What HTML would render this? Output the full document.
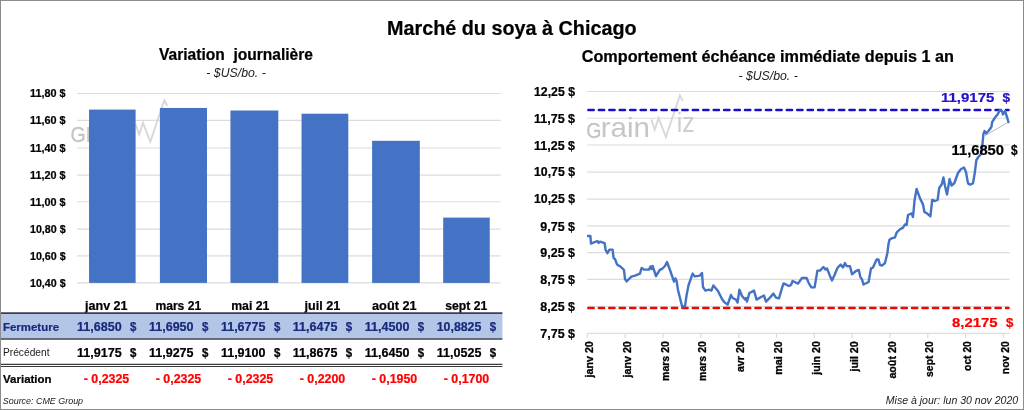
<!DOCTYPE html>
<html lang="fr"><head><meta charset="utf-8"><title>Marché du soya à Chicago</title>
<style>html,body{margin:0;padding:0;background:#fff}body{width:1024px;height:410px;overflow:hidden}</style></head>
<body>
<svg width="1024" height="410" viewBox="0 0 1024 410" font-family='"Liberation Sans", sans-serif' style="display:block">
<rect x="0" y="0" width="1024" height="410" fill="#fff"/>
<line x1="77" x2="500.7" y1="93.50" y2="93.50" stroke="#dcdcdc" stroke-width="1.2"/>
<line x1="77" x2="500.7" y1="120.45" y2="120.45" stroke="#dcdcdc" stroke-width="1.2"/>
<line x1="77" x2="500.7" y1="148.00" y2="148.00" stroke="#dcdcdc" stroke-width="1.2"/>
<line x1="77" x2="500.7" y1="175.05" y2="175.05" stroke="#dcdcdc" stroke-width="1.2"/>
<line x1="77" x2="500.7" y1="201.75" y2="201.75" stroke="#dcdcdc" stroke-width="1.2"/>
<line x1="77" x2="500.7" y1="229.20" y2="229.20" stroke="#dcdcdc" stroke-width="1.2"/>
<line x1="77" x2="500.7" y1="255.84" y2="255.84" stroke="#dcdcdc" stroke-width="1.2"/>
<line x1="77" x2="500.7" y1="282.90" y2="282.90" stroke="#dcdcdc" stroke-width="1.2"/>
<text x="30.00" y="97.35" font-size="10.3" font-weight="bold" font-style="normal" fill="#000" stroke="#000" stroke-width="0.22" text-anchor="start" textLength="35.60" lengthAdjust="spacingAndGlyphs">11,80 $</text>
<text x="30.00" y="124.30" font-size="10.3" font-weight="bold" font-style="normal" fill="#000" stroke="#000" stroke-width="0.22" text-anchor="start" textLength="35.60" lengthAdjust="spacingAndGlyphs">11,60 $</text>
<text x="30.00" y="151.70" font-size="10.3" font-weight="bold" font-style="normal" fill="#000" stroke="#000" stroke-width="0.22" text-anchor="start" textLength="35.60" lengthAdjust="spacingAndGlyphs">11,40 $</text>
<text x="30.00" y="178.75" font-size="10.3" font-weight="bold" font-style="normal" fill="#000" stroke="#000" stroke-width="0.22" text-anchor="start" textLength="35.60" lengthAdjust="spacingAndGlyphs">11,20 $</text>
<text x="30.00" y="206.15" font-size="10.3" font-weight="bold" font-style="normal" fill="#000" stroke="#000" stroke-width="0.22" text-anchor="start" textLength="35.60" lengthAdjust="spacingAndGlyphs">11,00 $</text>
<text x="30.00" y="233.20" font-size="10.3" font-weight="bold" font-style="normal" fill="#000" stroke="#000" stroke-width="0.22" text-anchor="start" textLength="35.60" lengthAdjust="spacingAndGlyphs">10,80 $</text>
<text x="30.00" y="259.69" font-size="10.3" font-weight="bold" font-style="normal" fill="#000" stroke="#000" stroke-width="0.22" text-anchor="start" textLength="35.60" lengthAdjust="spacingAndGlyphs">10,60 $</text>
<text x="30.00" y="286.75" font-size="10.3" font-weight="bold" font-style="normal" fill="#000" stroke="#000" stroke-width="0.22" text-anchor="start" textLength="35.60" lengthAdjust="spacingAndGlyphs">10,40 $</text>
<g transform="translate(-515.60,4.80)">
<text x="586.2" y="137.6" font-size="22.5" font-weight="normal" fill="#c4c4c4" stroke="#c4c4c4" stroke-width="0.3" textLength="15.2" lengthAdjust="spacingAndGlyphs">G</text>
<text x="600.8" y="137.4" font-size="28" font-weight="normal" fill="#c6c6c6" textLength="49.2" lengthAdjust="spacingAndGlyphs">rain</text>
<polyline points="651.3,119.4 654.7,129.7 658.6,118 665.9,137 679.9,95.5 682.8,101" fill="none" stroke="#d8d8d8" stroke-width="1.9" stroke-linejoin="miter"/>
<text x="676.8" y="131.9" font-size="28.5" font-weight="normal" fill="#cecece" textLength="18" lengthAdjust="spacingAndGlyphs">iz</text>
</g>
<rect x="89.05" y="109.60" width="46.55" height="173.30" fill="#4472c4"/>
<rect x="159.90" y="107.95" width="47.10" height="174.95" fill="#4472c4"/>
<rect x="230.45" y="110.50" width="47.85" height="172.40" fill="#4472c4"/>
<rect x="301.54" y="113.70" width="46.76" height="169.20" fill="#4472c4"/>
<rect x="372.10" y="140.80" width="47.70" height="142.10" fill="#4472c4"/>
<rect x="443.20" y="217.60" width="46.55" height="65.30" fill="#4472c4"/>
<text x="159.00" y="59.70" font-size="16" font-weight="bold" font-style="normal" fill="#000" stroke="#000" stroke-width="0.22" text-anchor="start" textLength="154.00" lengthAdjust="spacingAndGlyphs" xml:space="preserve" style="white-space:pre">Variation  journalière</text>
<text x="206.30" y="77.30" font-size="12" font-weight="normal" font-style="italic" fill="#1a1a1a" text-anchor="start" textLength="59.50" lengthAdjust="spacingAndGlyphs">- $US/bo. -</text>
<text x="85.05" y="310.00" font-size="12.2" font-weight="bold" font-style="normal" fill="#000" stroke="#000" stroke-width="0.22" text-anchor="start" textLength="42.50" lengthAdjust="spacingAndGlyphs">janv 21</text>
<text x="155.43" y="310.00" font-size="12.2" font-weight="bold" font-style="normal" fill="#000" stroke="#000" stroke-width="0.22" text-anchor="start" textLength="45.75" lengthAdjust="spacingAndGlyphs">mars 21</text>
<text x="231.18" y="310.00" font-size="12.2" font-weight="bold" font-style="normal" fill="#000" stroke="#000" stroke-width="0.22" text-anchor="start" textLength="38.25" lengthAdjust="spacingAndGlyphs">mai 21</text>
<text x="304.43" y="310.00" font-size="12.2" font-weight="bold" font-style="normal" fill="#000" stroke="#000" stroke-width="0.22" text-anchor="start" textLength="35.75" lengthAdjust="spacingAndGlyphs">juil 21</text>
<text x="372.05" y="310.00" font-size="12.2" font-weight="bold" font-style="normal" fill="#000" stroke="#000" stroke-width="0.22" text-anchor="start" textLength="44.50" lengthAdjust="spacingAndGlyphs">août 21</text>
<text x="445.30" y="310.00" font-size="12.2" font-weight="bold" font-style="normal" fill="#000" stroke="#000" stroke-width="0.22" text-anchor="start" textLength="42.00" lengthAdjust="spacingAndGlyphs">sept 21</text>
<rect x="1" y="313.5" width="501.4" height="25" fill="#b4c6e7"/>
<line x1="1" x2="502.4" y1="313.1" y2="313.1" stroke="#3c4150" stroke-width="1.6"/>
<line x1="1" x2="502.4" y1="339" y2="339" stroke="#3c4150" stroke-width="1.6"/>
<line x1="1" x2="502.4" y1="364.4" y2="364.4" stroke="#3c3c3c" stroke-width="1.1"/>
<line x1="1" x2="502.4" y1="366.5" y2="366.5" stroke="#3c3c3c" stroke-width="1.1"/>
<text x="3.00" y="330.60" font-size="11.6" font-weight="bold" font-style="normal" fill="#182a7c" stroke="#182a7c" stroke-width="0.22" text-anchor="start" textLength="56.00" lengthAdjust="spacingAndGlyphs">Fermeture</text>
<text x="3.00" y="356.30" font-size="10.4" font-weight="normal" font-style="normal" fill="#1a1a1a" text-anchor="start" textLength="46.50" lengthAdjust="spacingAndGlyphs">Précédent</text>
<text x="3.10" y="383.00" font-size="11.4" font-weight="bold" font-style="normal" fill="#000" stroke="#000" stroke-width="0.22" text-anchor="start" textLength="48.50" lengthAdjust="spacingAndGlyphs">Variation</text>
<text x="77.00" y="330.60" font-size="12" font-weight="bold" font-style="normal" fill="#182a7c" stroke="#182a7c" stroke-width="0.22" text-anchor="start" textLength="44.60" lengthAdjust="spacingAndGlyphs">11,6850</text>
<text x="130.00" y="330.60" font-size="12" font-weight="bold" font-style="normal" fill="#182a7c" stroke="#182a7c" stroke-width="0.22" text-anchor="start" textLength="6.40" lengthAdjust="spacingAndGlyphs">$</text>
<text x="77.00" y="356.70" font-size="12" font-weight="bold" font-style="normal" fill="#000" stroke="#000" stroke-width="0.22" text-anchor="start" textLength="44.60" lengthAdjust="spacingAndGlyphs">11,9175</text>
<text x="130.00" y="356.70" font-size="12" font-weight="bold" font-style="normal" fill="#000" stroke="#000" stroke-width="0.22" text-anchor="start" textLength="6.40" lengthAdjust="spacingAndGlyphs">$</text>
<text x="83.75" y="383.00" font-size="12" font-weight="bold" font-style="normal" fill="#ff0000" stroke="#ff0000" stroke-width="0.22" text-anchor="start" textLength="45.50" lengthAdjust="spacingAndGlyphs">- 0,2325</text>
<text x="148.95" y="330.60" font-size="12" font-weight="bold" font-style="normal" fill="#182a7c" stroke="#182a7c" stroke-width="0.22" text-anchor="start" textLength="44.60" lengthAdjust="spacingAndGlyphs">11,6950</text>
<text x="201.95" y="330.60" font-size="12" font-weight="bold" font-style="normal" fill="#182a7c" stroke="#182a7c" stroke-width="0.22" text-anchor="start" textLength="6.40" lengthAdjust="spacingAndGlyphs">$</text>
<text x="148.95" y="356.70" font-size="12" font-weight="bold" font-style="normal" fill="#000" stroke="#000" stroke-width="0.22" text-anchor="start" textLength="44.60" lengthAdjust="spacingAndGlyphs">11,9275</text>
<text x="201.95" y="356.70" font-size="12" font-weight="bold" font-style="normal" fill="#000" stroke="#000" stroke-width="0.22" text-anchor="start" textLength="6.40" lengthAdjust="spacingAndGlyphs">$</text>
<text x="155.75" y="383.00" font-size="12" font-weight="bold" font-style="normal" fill="#ff0000" stroke="#ff0000" stroke-width="0.22" text-anchor="start" textLength="45.50" lengthAdjust="spacingAndGlyphs">- 0,2325</text>
<text x="220.90" y="330.60" font-size="12" font-weight="bold" font-style="normal" fill="#182a7c" stroke="#182a7c" stroke-width="0.22" text-anchor="start" textLength="44.60" lengthAdjust="spacingAndGlyphs">11,6775</text>
<text x="273.90" y="330.60" font-size="12" font-weight="bold" font-style="normal" fill="#182a7c" stroke="#182a7c" stroke-width="0.22" text-anchor="start" textLength="6.40" lengthAdjust="spacingAndGlyphs">$</text>
<text x="220.90" y="356.70" font-size="12" font-weight="bold" font-style="normal" fill="#000" stroke="#000" stroke-width="0.22" text-anchor="start" textLength="44.60" lengthAdjust="spacingAndGlyphs">11,9100</text>
<text x="273.90" y="356.70" font-size="12" font-weight="bold" font-style="normal" fill="#000" stroke="#000" stroke-width="0.22" text-anchor="start" textLength="6.40" lengthAdjust="spacingAndGlyphs">$</text>
<text x="227.75" y="383.00" font-size="12" font-weight="bold" font-style="normal" fill="#ff0000" stroke="#ff0000" stroke-width="0.22" text-anchor="start" textLength="45.50" lengthAdjust="spacingAndGlyphs">- 0,2325</text>
<text x="292.85" y="330.60" font-size="12" font-weight="bold" font-style="normal" fill="#182a7c" stroke="#182a7c" stroke-width="0.22" text-anchor="start" textLength="44.60" lengthAdjust="spacingAndGlyphs">11,6475</text>
<text x="345.85" y="330.60" font-size="12" font-weight="bold" font-style="normal" fill="#182a7c" stroke="#182a7c" stroke-width="0.22" text-anchor="start" textLength="6.40" lengthAdjust="spacingAndGlyphs">$</text>
<text x="292.85" y="356.70" font-size="12" font-weight="bold" font-style="normal" fill="#000" stroke="#000" stroke-width="0.22" text-anchor="start" textLength="44.60" lengthAdjust="spacingAndGlyphs">11,8675</text>
<text x="345.85" y="356.70" font-size="12" font-weight="bold" font-style="normal" fill="#000" stroke="#000" stroke-width="0.22" text-anchor="start" textLength="6.40" lengthAdjust="spacingAndGlyphs">$</text>
<text x="299.75" y="383.00" font-size="12" font-weight="bold" font-style="normal" fill="#ff0000" stroke="#ff0000" stroke-width="0.22" text-anchor="start" textLength="45.50" lengthAdjust="spacingAndGlyphs">- 0,2200</text>
<text x="364.80" y="330.60" font-size="12" font-weight="bold" font-style="normal" fill="#182a7c" stroke="#182a7c" stroke-width="0.22" text-anchor="start" textLength="44.60" lengthAdjust="spacingAndGlyphs">11,4500</text>
<text x="417.80" y="330.60" font-size="12" font-weight="bold" font-style="normal" fill="#182a7c" stroke="#182a7c" stroke-width="0.22" text-anchor="start" textLength="6.40" lengthAdjust="spacingAndGlyphs">$</text>
<text x="364.80" y="356.70" font-size="12" font-weight="bold" font-style="normal" fill="#000" stroke="#000" stroke-width="0.22" text-anchor="start" textLength="44.60" lengthAdjust="spacingAndGlyphs">11,6450</text>
<text x="417.80" y="356.70" font-size="12" font-weight="bold" font-style="normal" fill="#000" stroke="#000" stroke-width="0.22" text-anchor="start" textLength="6.40" lengthAdjust="spacingAndGlyphs">$</text>
<text x="371.75" y="383.00" font-size="12" font-weight="bold" font-style="normal" fill="#ff0000" stroke="#ff0000" stroke-width="0.22" text-anchor="start" textLength="45.50" lengthAdjust="spacingAndGlyphs">- 0,1950</text>
<text x="436.75" y="330.60" font-size="12" font-weight="bold" font-style="normal" fill="#182a7c" stroke="#182a7c" stroke-width="0.22" text-anchor="start" textLength="44.60" lengthAdjust="spacingAndGlyphs">10,8825</text>
<text x="489.75" y="330.60" font-size="12" font-weight="bold" font-style="normal" fill="#182a7c" stroke="#182a7c" stroke-width="0.22" text-anchor="start" textLength="6.40" lengthAdjust="spacingAndGlyphs">$</text>
<text x="436.75" y="356.70" font-size="12" font-weight="bold" font-style="normal" fill="#000" stroke="#000" stroke-width="0.22" text-anchor="start" textLength="44.60" lengthAdjust="spacingAndGlyphs">11,0525</text>
<text x="489.75" y="356.70" font-size="12" font-weight="bold" font-style="normal" fill="#000" stroke="#000" stroke-width="0.22" text-anchor="start" textLength="6.40" lengthAdjust="spacingAndGlyphs">$</text>
<text x="443.75" y="383.00" font-size="12" font-weight="bold" font-style="normal" fill="#ff0000" stroke="#ff0000" stroke-width="0.22" text-anchor="start" textLength="45.50" lengthAdjust="spacingAndGlyphs">- 0,1700</text>
<text x="2.75" y="404.40" font-size="9.3" font-weight="normal" font-style="italic" fill="#222" text-anchor="start" textLength="80.35" lengthAdjust="spacingAndGlyphs">Source: CME Group</text>
<text x="387.00" y="35.00" font-size="20" font-weight="bold" font-style="normal" fill="#000" stroke="#000" stroke-width="0.22" text-anchor="start" textLength="249.60" lengthAdjust="spacingAndGlyphs">Marché du soya à Chicago</text>
<line x1="587.2" x2="1009.6" y1="91.50" y2="91.50" stroke="#dcdcdc" stroke-width="1.2"/>
<line x1="587.2" x2="1009.6" y1="118.25" y2="118.25" stroke="#dcdcdc" stroke-width="1.2"/>
<line x1="587.2" x2="1009.6" y1="145.00" y2="145.00" stroke="#dcdcdc" stroke-width="1.2"/>
<line x1="587.2" x2="1009.6" y1="172.05" y2="172.05" stroke="#dcdcdc" stroke-width="1.2"/>
<line x1="587.2" x2="1009.6" y1="199.20" y2="199.20" stroke="#dcdcdc" stroke-width="1.2"/>
<line x1="587.2" x2="1009.6" y1="225.90" y2="225.90" stroke="#dcdcdc" stroke-width="1.2"/>
<line x1="587.2" x2="1009.6" y1="252.55" y2="252.55" stroke="#dcdcdc" stroke-width="1.2"/>
<line x1="587.2" x2="1009.6" y1="279.30" y2="279.30" stroke="#dcdcdc" stroke-width="1.2"/>
<line x1="587.2" x2="1009.6" y1="306.30" y2="306.30" stroke="#dcdcdc" stroke-width="1.2"/>
<line x1="587.2" x2="1009.6" y1="333.30" y2="333.30" stroke="#dcdcdc" stroke-width="1.2"/>
<text x="534.00" y="96.25" font-size="12" font-weight="bold" font-style="normal" fill="#000" stroke="#000" stroke-width="0.22" text-anchor="start" textLength="41.00" lengthAdjust="spacingAndGlyphs">12,25 $</text>
<text x="534.00" y="123.00" font-size="12" font-weight="bold" font-style="normal" fill="#000" stroke="#000" stroke-width="0.22" text-anchor="start" textLength="41.00" lengthAdjust="spacingAndGlyphs">11,75 $</text>
<text x="534.00" y="149.60" font-size="12" font-weight="bold" font-style="normal" fill="#000" stroke="#000" stroke-width="0.22" text-anchor="start" textLength="41.00" lengthAdjust="spacingAndGlyphs">11,25 $</text>
<text x="534.00" y="176.05" font-size="12" font-weight="bold" font-style="normal" fill="#000" stroke="#000" stroke-width="0.22" text-anchor="start" textLength="41.00" lengthAdjust="spacingAndGlyphs">10,75 $</text>
<text x="534.00" y="203.35" font-size="12" font-weight="bold" font-style="normal" fill="#000" stroke="#000" stroke-width="0.22" text-anchor="start" textLength="41.00" lengthAdjust="spacingAndGlyphs">10,25 $</text>
<text x="540.30" y="230.55" font-size="12" font-weight="bold" font-style="normal" fill="#000" stroke="#000" stroke-width="0.22" text-anchor="start" textLength="34.70" lengthAdjust="spacingAndGlyphs">9,75 $</text>
<text x="540.30" y="257.45" font-size="12" font-weight="bold" font-style="normal" fill="#000" stroke="#000" stroke-width="0.22" text-anchor="start" textLength="34.70" lengthAdjust="spacingAndGlyphs">9,25 $</text>
<text x="540.30" y="284.20" font-size="12" font-weight="bold" font-style="normal" fill="#000" stroke="#000" stroke-width="0.22" text-anchor="start" textLength="34.70" lengthAdjust="spacingAndGlyphs">8,75 $</text>
<text x="540.30" y="311.05" font-size="12" font-weight="bold" font-style="normal" fill="#000" stroke="#000" stroke-width="0.22" text-anchor="start" textLength="34.70" lengthAdjust="spacingAndGlyphs">8,25 $</text>
<text x="540.30" y="338.05" font-size="12" font-weight="bold" font-style="normal" fill="#000" stroke="#000" stroke-width="0.22" text-anchor="start" textLength="34.70" lengthAdjust="spacingAndGlyphs">7,75 $</text>
<line x1="587.40" x2="587.40" y1="333.30" y2="337.90" stroke="#dcdcdc" stroke-width="1.2"/>
<text transform="translate(593.00,341.2) rotate(-90)" x="0" y="0" font-size="11.3" font-weight="bold" fill="#000" stroke="#000" stroke-width="0.3" text-anchor="end" textLength="36.2" lengthAdjust="spacingAndGlyphs">janv 20</text>
<line x1="625.22" x2="625.22" y1="333.30" y2="337.90" stroke="#dcdcdc" stroke-width="1.2"/>
<text transform="translate(630.82,341.2) rotate(-90)" x="0" y="0" font-size="11.3" font-weight="bold" fill="#000" stroke="#000" stroke-width="0.3" text-anchor="end" textLength="36.2" lengthAdjust="spacingAndGlyphs">janv 20</text>
<line x1="663.04" x2="663.04" y1="333.30" y2="337.90" stroke="#dcdcdc" stroke-width="1.2"/>
<text transform="translate(668.64,341.2) rotate(-90)" x="0" y="0" font-size="11.3" font-weight="bold" fill="#000" stroke="#000" stroke-width="0.3" text-anchor="end" textLength="39.7" lengthAdjust="spacingAndGlyphs">mars 20</text>
<line x1="700.86" x2="700.86" y1="333.30" y2="337.90" stroke="#dcdcdc" stroke-width="1.2"/>
<text transform="translate(706.46,341.2) rotate(-90)" x="0" y="0" font-size="11.3" font-weight="bold" fill="#000" stroke="#000" stroke-width="0.3" text-anchor="end" textLength="39.7" lengthAdjust="spacingAndGlyphs">mars 20</text>
<line x1="738.68" x2="738.68" y1="333.30" y2="337.90" stroke="#dcdcdc" stroke-width="1.2"/>
<text transform="translate(744.28,341.2) rotate(-90)" x="0" y="0" font-size="11.3" font-weight="bold" fill="#000" stroke="#000" stroke-width="0.3" text-anchor="end" textLength="30.9" lengthAdjust="spacingAndGlyphs">avr 20</text>
<line x1="776.50" x2="776.50" y1="333.30" y2="337.90" stroke="#dcdcdc" stroke-width="1.2"/>
<text transform="translate(782.10,341.2) rotate(-90)" x="0" y="0" font-size="11.3" font-weight="bold" fill="#000" stroke="#000" stroke-width="0.3" text-anchor="end" textLength="33.6" lengthAdjust="spacingAndGlyphs">mai 20</text>
<line x1="814.32" x2="814.32" y1="333.30" y2="337.90" stroke="#dcdcdc" stroke-width="1.2"/>
<text transform="translate(819.92,341.2) rotate(-90)" x="0" y="0" font-size="11.3" font-weight="bold" fill="#000" stroke="#000" stroke-width="0.3" text-anchor="end" textLength="33.6" lengthAdjust="spacingAndGlyphs">juin 20</text>
<line x1="852.14" x2="852.14" y1="333.30" y2="337.90" stroke="#dcdcdc" stroke-width="1.2"/>
<text transform="translate(857.74,341.2) rotate(-90)" x="0" y="0" font-size="11.3" font-weight="bold" fill="#000" stroke="#000" stroke-width="0.3" text-anchor="end" textLength="30.4" lengthAdjust="spacingAndGlyphs">juil 20</text>
<line x1="889.96" x2="889.96" y1="333.30" y2="337.90" stroke="#dcdcdc" stroke-width="1.2"/>
<text transform="translate(895.56,341.2) rotate(-90)" x="0" y="0" font-size="11.3" font-weight="bold" fill="#000" stroke="#000" stroke-width="0.3" text-anchor="end" textLength="37.4" lengthAdjust="spacingAndGlyphs">août 20</text>
<line x1="927.78" x2="927.78" y1="333.30" y2="337.90" stroke="#dcdcdc" stroke-width="1.2"/>
<text transform="translate(933.38,341.2) rotate(-90)" x="0" y="0" font-size="11.3" font-weight="bold" fill="#000" stroke="#000" stroke-width="0.3" text-anchor="end" textLength="35.7" lengthAdjust="spacingAndGlyphs">sept 20</text>
<line x1="965.60" x2="965.60" y1="333.30" y2="337.90" stroke="#dcdcdc" stroke-width="1.2"/>
<text transform="translate(971.20,341.2) rotate(-90)" x="0" y="0" font-size="11.3" font-weight="bold" fill="#000" stroke="#000" stroke-width="0.3" text-anchor="end" textLength="29.7" lengthAdjust="spacingAndGlyphs">oct 20</text>
<line x1="1003.42" x2="1003.42" y1="333.30" y2="337.90" stroke="#dcdcdc" stroke-width="1.2"/>
<text transform="translate(1009.02,341.2) rotate(-90)" x="0" y="0" font-size="11.3" font-weight="bold" fill="#000" stroke="#000" stroke-width="0.3" text-anchor="end" textLength="33" lengthAdjust="spacingAndGlyphs">nov 20</text>
<g transform="translate(0.00,0.00)">
<text x="586.2" y="137.6" font-size="22.5" font-weight="normal" fill="#c4c4c4" stroke="#c4c4c4" stroke-width="0.3" textLength="15.2" lengthAdjust="spacingAndGlyphs">G</text>
<text x="600.8" y="137.4" font-size="28" font-weight="normal" fill="#c6c6c6" textLength="49.2" lengthAdjust="spacingAndGlyphs">rain</text>
<polyline points="651.3,119.4 654.7,129.7 658.6,118 665.9,137 679.9,95.5 682.8,101" fill="none" stroke="#d8d8d8" stroke-width="1.9" stroke-linejoin="miter"/>
<text x="676.8" y="131.9" font-size="28.5" font-weight="normal" fill="#cecece" textLength="18" lengthAdjust="spacingAndGlyphs">iz</text>
</g>
<line x1="588.4" x2="1008.5" y1="109.9" y2="109.9" stroke="#1c0ccc" stroke-width="2.5" stroke-dasharray="5.3 5.14" stroke-linecap="round"/>
<line x1="588.4" x2="1008.5" y1="308" y2="308" stroke="#ff0000" stroke-width="2.6" stroke-dasharray="5.2 5.24" stroke-linecap="round"/>
<line x1="1008.4" y1="122.2" x2="985" y2="135.6" stroke="#a6a6a6" stroke-width="0.8"/>
<polyline fill="none" stroke="#4472c4" stroke-width="2.4" stroke-linejoin="round" stroke-linecap="round" points="588,236 590.4,236 591,243.6 594,242.4 597.4,241 598.6,243 600,241.6 604.6,243.2 605.6,250 607.4,253.2 609.4,249.6 612.6,249.6 613.6,258 615,259 617,264.4 621,267 624,270 625,279 626.6,281.4 631.4,276.6 635,275.6 640,273.6 641.6,268 644,269.6 649,269.6 650.6,266.4 651.6,269 652.6,266 656,276 660,269.6 662,269 665,266 667,262 670,270 674,281.6 675.4,278.4 676.6,281 678,290 682,306 685,306.4 686.6,295 688.6,285 692.6,273.6 694.6,276.4 700,275.6 702,273 703,287 705.4,290.6 709,289.6 711.4,290.6 713.4,285.4 718,291 722,299 724.6,302.4 727.6,304.6 731,295 732.6,298 736,299.6 737.6,302.6 739.4,289.6 742,296 745,299.6 746,298 747,301.6 749.4,293 754,290.6 756.6,299.6 761,297 764,295.6 766,301.6 770,297.6 773.4,293.6 776,297.6 779,298.4 782,288 783.6,283.4 789,286 791,285 792.6,281 798,283.6 802,278 806.6,278 809,283.6 811.4,287.4 814.6,287.4 817.4,270.6 820,270.6 823.4,267 825.6,269.6 827,268.4 830,276 832,280.4 835,274 837.4,268 840.6,264.6 843,267.4 845,263 846.6,266 850,266.2 852,274.2 856,271 858.8,270 860.3,276.8 862,279.3 863.5,284.5 868.6,282 871,268.4 873,267.6 876.6,259.4 878.4,259.4 880,265 882,265.6 885,263 887.4,253 888.5,244 889.4,240 891,238.6 895,237.4 896.6,232.7 899.7,229.5 903,227.6 905,224.4 906.6,225 908,215 911.6,213.4 913,217 914.6,200 916.6,189 920,198.4 923,204.4 924.4,212 927,213.4 930.4,216.4 932.2,200 935,201 937.6,200 939.2,188 941.8,184.2 943.4,177.4 945,186 947,194.6 949.6,179 951.6,185.6 954.4,183 958,173 961,169 964,167.6 966,172 968,183.4 970,184.6 973,183.4 974.6,174 976.4,160 978.4,157 981,154 982.4,145 983.4,134 984.6,131 986,133.4 988.4,131 991.4,127 992.2,122 995,117.6 997.6,114.4 1000,110 1002,111 1003,114.4 1005,111 1007,117 1008.4,122"/>
<text x="941.00" y="102.00" font-size="13.2" font-weight="bold" font-style="normal" fill="#2412cc" stroke="#2412cc" stroke-width="0.22" text-anchor="start" textLength="53.40" lengthAdjust="spacingAndGlyphs">11,9175</text>
<text x="1002.40" y="102.00" font-size="13.2" font-weight="bold" font-style="normal" fill="#2412cc" stroke="#2412cc" stroke-width="0.22" text-anchor="start" textLength="7.60" lengthAdjust="spacingAndGlyphs">$</text>
<text x="951.60" y="154.60" font-size="14" font-weight="bold" font-style="normal" fill="#000" stroke="#000" stroke-width="0.22" text-anchor="start" textLength="52.40" lengthAdjust="spacingAndGlyphs">11,6850</text>
<text x="1011.00" y="154.60" font-size="14" font-weight="bold" font-style="normal" fill="#000" stroke="#000" stroke-width="0.22" text-anchor="start" textLength="6.60" lengthAdjust="spacingAndGlyphs">$</text>
<text x="952.00" y="326.60" font-size="13.4" font-weight="bold" font-style="normal" fill="#ff0000" stroke="#ff0000" stroke-width="0.22" text-anchor="start" textLength="45.60" lengthAdjust="spacingAndGlyphs">8,2175</text>
<text x="1006.00" y="326.60" font-size="13.4" font-weight="bold" font-style="normal" fill="#ff0000" stroke="#ff0000" stroke-width="0.22" text-anchor="start" textLength="7.40" lengthAdjust="spacingAndGlyphs">$</text>
<text x="581.70" y="62.40" font-size="15.6" font-weight="bold" font-style="normal" fill="#000" stroke="#000" stroke-width="0.22" text-anchor="start" textLength="372.30" lengthAdjust="spacingAndGlyphs">Comportement échéance immédiate depuis 1 an</text>
<text x="738.40" y="80.00" font-size="12" font-weight="normal" font-style="italic" fill="#1a1a1a" text-anchor="start" textLength="59.40" lengthAdjust="spacingAndGlyphs">- $US/bo. -</text>
<text x="885.80" y="404.40" font-size="10.4" font-weight="normal" font-style="italic" fill="#222" text-anchor="start" textLength="132.40" lengthAdjust="spacingAndGlyphs">Mise à jour: lun 30 nov 2020</text>
<rect x="0.5" y="0.5" width="1023" height="409" fill="none" stroke="#8c8c8c" stroke-width="1"/>
</svg>
</body></html>
